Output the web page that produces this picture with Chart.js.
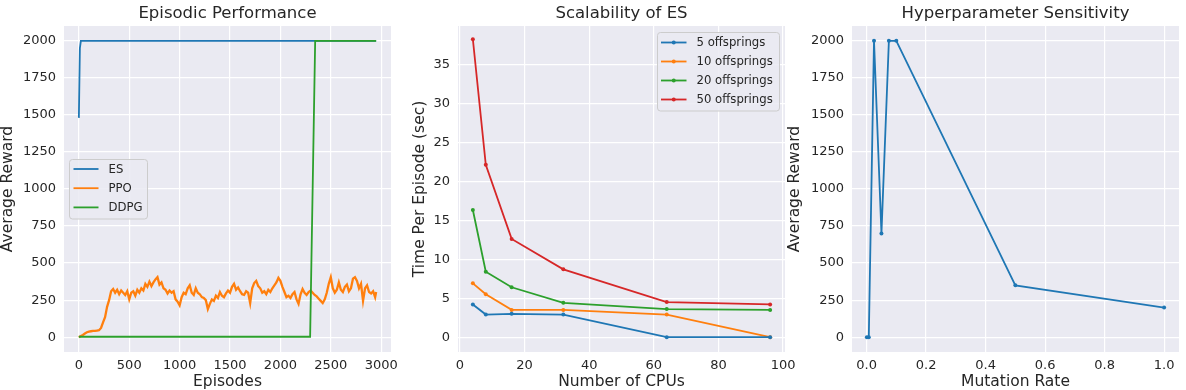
<!DOCTYPE html>
<html>
<head>
<meta charset="utf-8">
<script src="https://cdn.jsdelivr.net/npm/chart.js"></script>
<style>
body{margin:0;width:1186px;height:390px;overflow:hidden;background:#fff;position:relative}
canvas{position:absolute;top:0}
</style>
</head>
<body>
<canvas id="c1" width="411" height="390" style="left:0px"></canvas>
<canvas id="c2" width="393" height="390" style="left:412px"></canvas>
<canvas id="c3" width="400" height="390" style="left:787px"></canvas>
<script>
/* =========================
   DATA
========================= */
// Episodic Performance
const esEpisodes = [0, 10, 20, 2950];
const esReward = [1480, 1950, 2000, 2000];
const ddpgEpisodes = [0, 2295, 2345, 2950];
const ddpgReward = [3, 3, 2000, 2000];
const ppoStep = 20; // one value every 20 episodes, last one at 2950
const ppoReward = [
  0, 8, 15, 25, 33, 38, 40, 42, 43, 45,
  47, 62, 100, 135, 205, 250, 310, 325, 300, 320,
  290, 315, 300, 285, 310, 255, 300, 310, 280, 320,
  300, 330, 315, 360, 340, 375, 345, 370, 390, 405,
  355, 370, 330, 320, 295, 315, 300, 310, 255, 240,
  215, 270, 300, 290, 330, 350, 300, 285, 330, 300,
  290, 270, 265, 250, 190, 225, 255, 245, 280, 265,
  305, 280, 270, 295, 315, 300, 340, 360, 320, 335,
  310, 290, 285, 310, 300, 230, 330, 365, 380, 345,
  330, 300, 310, 290, 320, 305, 330, 350, 370, 400,
  380, 340, 305, 270, 280, 265, 290, 305, 255, 225,
  290, 325, 300, 285, 305, 315, 300, 285, 275, 260,
  245, 230, 255, 300, 360, 405, 330, 300, 320, 370,
  320, 305, 340, 355, 310, 330, 395, 405, 380, 330,
  360, 245, 330, 350, 305, 295, 310, 270, 305
];
const ppoEpisodes = ppoReward.map((_, i) => Math.min(i * ppoStep, 2950));

// Scalability of ES
const cpus = [4, 8, 16, 32, 64, 96];
const off5 = [4.2, 2.9, 3.0, 2.9, 0, 0];
const off10 = [6.9, 5.5, 3.5, 3.5, 2.9, 0];
const off20 = [16.3, 8.4, 6.4, 4.4, 3.6, 3.5];
const off50 = [38.2, 22.1, 12.6, 8.7, 4.5, 4.2];

// Hyperparameter Sensitivity
const mutationRates = [0.001, 0.0075, 0.025, 0.05, 0.075, 0.1, 0.5, 1.0];
const hpReward = [0, 0, 2000, 700, 2000, 2000, 350, 200];

// Ticks
const rewardTicks = [0, 250, 500, 750, 1000, 1250, 1500, 1750, 2000];
const episodeTicks = [0, 500, 1000, 1500, 2000, 2500, 3000];
const cpuTicks = [0, 20, 40, 60, 80, 100];
const timeTicks = [0, 5, 10, 15, 20, 25, 30, 35];
const rateTicks = [0, 0.2, 0.4, 0.6, 0.8, 1.0];

/* =========================
   STYLE HELPERS
========================= */
Chart.defaults.font.family = "'DejaVu Sans', sans-serif";
Chart.defaults.color = '#262626';
Chart.defaults.animation = false;

const C = {blue: '#1f77b4', orange: '#ff7f0e', green: '#2ca02c', red: '#d62728'};
const LW = 1.8;

function pts(xs, ys) {
  return xs.map((x, i) => ({x: x, y: ys[i]}));
}

function axis(min, max, ticks, title, size, isX, fmt) {
  return {
    type: 'linear', min: min, max: max,
    afterBuildTicks: s => { s.ticks = ticks.map(v => ({value: v})); },
    afterFit: s => { if (isX) s.height = size; else s.width = size; },
    grid: {color: '#ffffff', lineWidth: 1.2, drawTicks: false},
    border: {display: false},
    ticks: {
      font: {size: 13}, color: '#262626', padding: isX ? 6 : 8,
      maxRotation: 0, autoSkip: false,
      callback: fmt || (v => String(v))
    },
    title: {
      display: true, text: title, color: '#262626',
      font: {size: 15.5, lineHeight: 1}, padding: {top: 0, bottom: 0}
    }
  };
}

function titleOpts(text) {
  return {
    display: true, text: text, color: '#262626', fullSize: false,
    font: {size: 16.5, weight: 'normal', lineHeight: 1.2},
    padding: {top: 4, bottom: 2.2}
  };
}

const bgPlugin = {
  id: 'bg',
  beforeDraw(chart) {
    const a = chart.chartArea, ctx = chart.ctx;
    ctx.save();
    ctx.fillStyle = '#eaeaf2';
    ctx.fillRect(a.left, a.top, a.right - a.left, a.bottom - a.top);
    ctx.restore();
  }
};

const boxLegend = {
  id: 'boxLegend',
  afterDatasetsDraw(chart, args, o) {
    if (!o || !o.w) return;
    const ctx = chart.ctx;
    ctx.save();
    ctx.beginPath();
    ctx.roundRect(o.x, o.y, o.w, o.h, 3);
    ctx.fillStyle = 'rgba(234,234,242,0.85)';
    ctx.fill();
    ctx.strokeStyle = '#cccccc';
    ctx.lineWidth = 1;
    ctx.stroke();
    ctx.font = "11.7px 'DejaVu Sans'";
    ctx.textBaseline = 'middle';
    chart.data.datasets.forEach((d, i) => {
      const y = o.row0 + i * o.rowH;
      ctx.strokeStyle = d.borderColor;
      ctx.lineWidth = LW;
      ctx.beginPath();
      ctx.moveTo(o.lineX0, y);
      ctx.lineTo(o.lineX1, y);
      ctx.stroke();
      if (o.marker) {
        ctx.fillStyle = d.borderColor;
        ctx.beginPath();
        ctx.arc((o.lineX0 + o.lineX1) / 2, y, 2, 0, Math.PI * 2);
        ctx.fill();
      }
      ctx.fillStyle = '#262626';
      ctx.fillText(d.label, o.textX, y + 0.5);
    });
    ctx.restore();
  }
};

function lineSet(label, data, color, radius, order, width) {
  return {
    label: label, data: data, borderColor: color, backgroundColor: color,
    borderWidth: width || LW, tension: 0, pointRadius: radius, pointBorderWidth: 0,
    pointBackgroundColor: color, order: order || 0
  };
}

/* =========================
   CHART 1 - Episodic Performance
========================= */
new Chart(document.getElementById('c1'), {
  type: 'line',
  data: {datasets: [
    lineSet('ES', pts(esEpisodes, esReward), C.blue, 0, 2),
    lineSet('PPO', pts(ppoEpisodes, ppoReward), C.orange, 0, 1, 2.3),
    lineSet('DDPG', pts(ddpgEpisodes, ddpgReward), C.green, 0, 0)
  ]},
  options: {
    responsive: false,
    layout: {padding: {left: 0, right: 20, top: 0, bottom: 0}},
    scales: {
      x: axis(-147.5, 3097.5, episodeTicks, 'Episodes', 38, true),
      y: axis(-100, 2100, rewardTicks, 'Average Reward', 64, false)
    },
    plugins: {
      legend: {display: false},
      tooltip: {enabled: false},
      title: titleOpts('Episodic Performance'),
      boxLegend: {x: 69.5, y: 159.5, w: 78, h: 59.5, row0: 169, rowH: 19.2,
        lineX0: 73.5, lineX1: 98.5, textX: 108.5, marker: false}
    }
  },
  plugins: [bgPlugin, boxLegend]
});

/* =========================
   CHART 2 - Scalability of ES
========================= */
new Chart(document.getElementById('c2'), {
  type: 'line',
  data: {datasets: [
    lineSet('5 offsprings', pts(cpus, off5), C.blue, 2),
    lineSet('10 offsprings', pts(cpus, off10), C.orange, 2),
    lineSet('20 offsprings', pts(cpus, off20), C.green, 2),
    lineSet('50 offsprings', pts(cpus, off50), C.red, 2)
  ]},
  options: {
    responsive: false,
    layout: {padding: {left: 0, right: 20, top: 0, bottom: 0}},
    scales: {
      x: axis(-0.6, 100.6, cpuTicks, 'Number of CPUs', 38, true),
      y: axis(-1.9, 39.9, timeTicks, 'Time Per Episode (sec)', 46, false)
    },
    plugins: {
      legend: {display: false},
      tooltip: {enabled: false},
      title: titleOpts('Scalability of ES'),
      boxLegend: {x: 245.5, y: 32.5, w: 122, h: 78.5, row0: 42.5, rowH: 19,
        lineX0: 249, lineX1: 274.5, textX: 284.5, marker: true}
    }
  },
  plugins: [bgPlugin, boxLegend]
});

/* =========================
   CHART 3 - Hyperparameter Sensitivity
========================= */
new Chart(document.getElementById('c3'), {
  type: 'line',
  data: {datasets: [
    lineSet('reward', pts(mutationRates, hpReward), C.blue, 2)
  ]},
  options: {
    responsive: false,
    layout: {padding: {left: 0, right: 8, top: 0, bottom: 0}},
    scales: {
      x: axis(-0.04895, 1.04995, rateTicks, 'Mutation Rate', 38, true, v => v.toFixed(1)),
      y: axis(-100, 2100, rewardTicks, 'Average Reward', 65, false)
    },
    plugins: {
      legend: {display: false},
      tooltip: {enabled: false},
      title: titleOpts('Hyperparameter Sensitivity')
    }
  },
  plugins: [bgPlugin]
});
</script>
</body>
</html>
